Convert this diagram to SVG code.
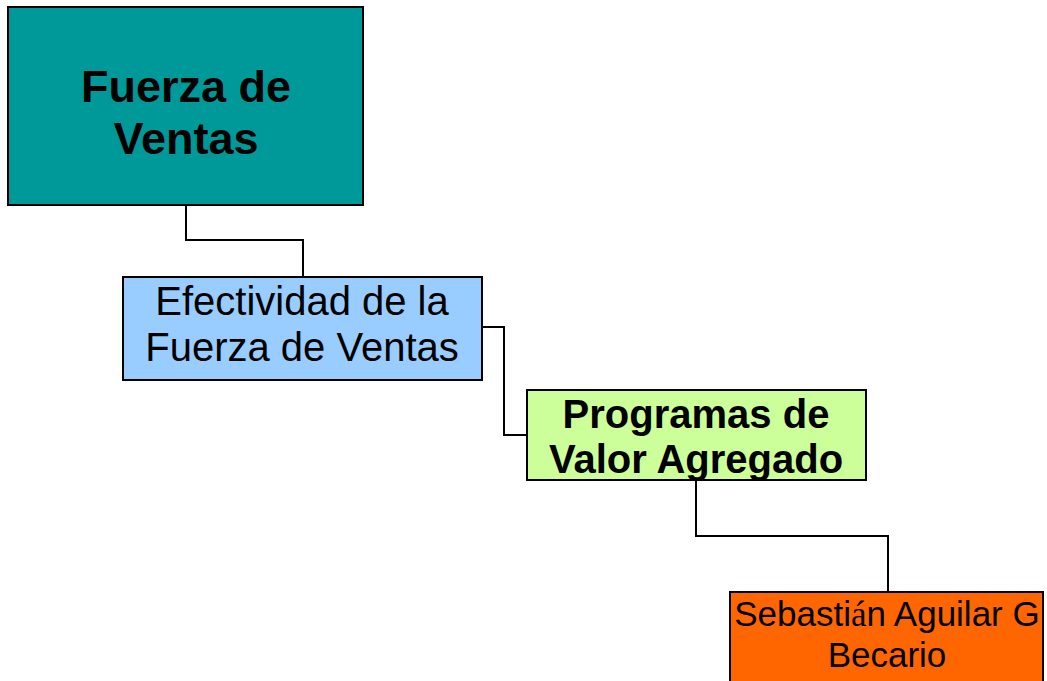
<svg xmlns="http://www.w3.org/2000/svg" width="1047" height="681" viewBox="0 0 1047 681">
<style>
.box{stroke:#000;stroke-width:2}
.conn{fill:none;stroke:#000;stroke-width:2}
text{font-family:"Liberation Sans",Arial,sans-serif;fill:#000;text-anchor:middle}
.b{font-weight:bold}
</style>
<rect width="1047" height="681" fill="#fff"/>
<g id="connectors">
<polyline class="conn" points="186,205 186,240 303,240 303,277"/>
<polyline class="conn" points="482,327 504,327 504,435 527,435"/>
<polyline class="conn" points="696,480 696,536 888,536 888,592"/>
</g>
<g id="node-fuerza">
<rect class="box" x="8" y="7" width="355" height="198" fill="#009999"/>
<text class="b" font-size="45" x="186" y="102">Fuerza de</text>
<text class="b" font-size="45" x="186" y="154">Ventas</text>
</g>
<g id="node-efectividad">
<rect class="box" x="123" y="277" width="359" height="103" fill="#99CCFF"/>
<text font-size="40" x="302" y="315">Efectividad de la</text>
<text font-size="40" x="302" y="361">Fuerza de Ventas</text>
</g>
<g id="node-programas">
<rect class="box" x="527" y="390" width="339" height="90" fill="#CCFF99"/>
<text class="b" font-size="40" x="696" y="428">Programas de</text>
<text class="b" font-size="40" x="696" y="473">Valor Agregado</text>
</g>
<g id="node-sebastian">
<rect class="box" x="730" y="592" width="313" height="95" fill="#FF6600"/>
<text font-size="35" x="887" y="626">Sebasti<tspan font-family="'Liberation Serif',serif">á</tspan>n Aguilar G</text>
<text font-size="35" x="887" y="667">Becario</text>
</g>
</svg>
